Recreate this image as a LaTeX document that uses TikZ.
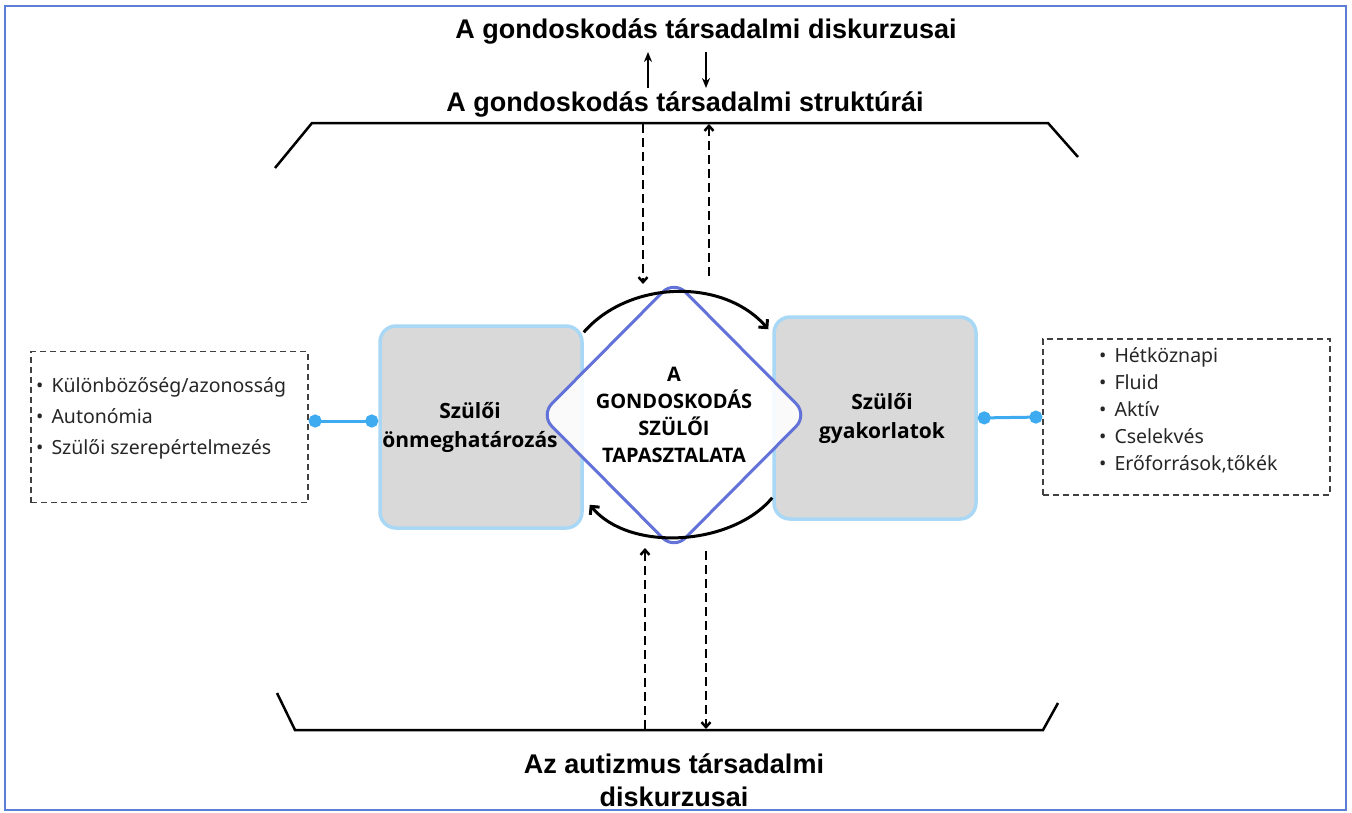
\documentclass[tikz,border=0pt]{standalone}
\usepackage{fontspec}
\setmainfont{Liberation Sans}
\newfontfamily\boxfont{Open Sans}
\newfontfamily\listfont{Noto Sans}
\usetikzlibrary{arrows.meta,shapes.geometric}

\definecolor{framecol}{HTML}{5B7FD6}
\definecolor{boxedge}{HTML}{A8D8F5}
\definecolor{boxfill}{HTML}{D9D9D9}
\definecolor{diaedge}{HTML}{6372D9}
\definecolor{linkcol}{HTML}{3EAAF0}

\begin{document}
\begin{tikzpicture}[
  x=1pt,y=-1pt,
  title/.style={font=\bfseries\fontsize{27}{33}\selectfont,inner sep=0pt,align=center},
  sbox/.style={draw=boxedge,fill=boxfill,line width=3.5pt,rounded corners=16pt,
    minimum width=202pt,minimum height=202pt},
  boxtext/.style={align=center,font=\boxfont\bfseries\fontsize{21}{29}\selectfont},
  expdia/.style={diamond,draw=diaedge,fill=white,fill opacity=0.88,line width=3pt,
    rounded corners=16pt,minimum width=268pt,minimum height=270pt,inner sep=0pt},
  diatext/.style={text opacity=1,align=center,font=\boxfont\bfseries\fontsize{20}{27}\selectfont},
  listbox/.style={draw=black!75,dashed,dash pattern=on 6pt off 4pt,line width=1.3pt,inner sep=0pt},
  listtext/.style={align=left,inner sep=0pt,text=black!85},
  link/.style={linkcol,line width=3pt,{Circle[length=13pt]}-{Circle[length=13pt]}},
  bracket/.style={line width=2.5pt,line join=miter},
  thinarrow/.style={line width=2.2pt,-{Stealth[length=10pt,width=8pt]}},
  dasharrow/.style={line width=2.5pt,dash pattern=on 9pt off 5pt,-{Straight Barb[length=5pt,width=9pt]}},
  cyclearrow/.style={line width=3pt,-{Straight Barb[length=6pt,width=12pt]}}
]
  \useasboundingbox (0,0) rectangle (1352,812);
  \draw[framecol,line width=2pt] (5,6) rectangle (1346,810);

  % titles
  \node[title] (disc) at (706,31) {A gondoskodás társadalmi diskurzusai};
  \node[title] (struct) at (685,104) {A gondoskodás társadalmi struktúrái};
  \node[title] (autism) at (674,780) {Az autizmus társadalmi\\diskurzusai};

  % brackets
  \coordinate (tb1) at (275,168);
  \coordinate (tb2) at (312,123);
  \coordinate (tb3) at (1048,123);
  \coordinate (tb4) at (1078,157);
  \coordinate (bb1) at (277,693);
  \coordinate (bb2) at (295,730);
  \coordinate (bb3) at (1043,730);
  \coordinate (bb4) at (1058,703);
  \draw[bracket] (tb1) -- (tb2) -- (tb3) -- (tb4);
  \draw[bracket] (bb1) -- (bb2) -- (bb3) -- (bb4);

  % boxes and diamond
  \node[sbox,label={[boxtext,xshift=-11pt]center:{Szülői\\önmeghatározás}}] (lbox) at (481,427) {};
  \node[sbox,label={[boxtext,xshift=7pt]center:{Szülői\\gyakorlatok}}] (rbox) at (875,418) {};
  \node[expdia,label={[diatext]center:{A\\GONDOSKODÁS\\SZÜLŐI\\TAPASZTALATA}}] (exp) at (674,415) {};

  % lists
  \node[listbox,minimum width=277pt,minimum height=151pt] (llist) at (169.5,427) {};
  \node[listtext,anchor=west,font=\listfont\fontsize{19.5}{31}\selectfont] (litems) at (36,418)
    {\textbullet\hspace{8pt}Különbözőség/azonosság\\
     \textbullet\hspace{8pt}Autonómia\\
     \textbullet\hspace{8pt}Szülői szerepértelmezés};
  \node[listbox,minimum width=287pt,minimum height=156pt] (rlist) at (1186.5,417) {};
  \node[listtext,anchor=west,font=\listfont\fontsize{19.5}{27}\selectfont] (ritems) at (1099,410)
    {\textbullet\hspace{8pt}Hétköznapi\\
     \textbullet\hspace{8pt}Fluid\\
     \textbullet\hspace{8pt}Aktív\\
     \textbullet\hspace{8pt}Cselekvés\\
     \textbullet\hspace{8pt}Erőforrások,tőkék};

  % connectors
  \draw[link] ([yshift=6pt]llist.east) -- ([yshift=6pt]lbox.west);
  \draw[link] (rbox.east) -- (rlist.west);

  % cycle
  \draw[cyclearrow] ([yshift=-8pt]lbox.north east)
    .. controls +(45,-52) and +(-45,-52) .. ([xshift=-4pt,yshift=-14pt]rbox.north west);
  \draw[cyclearrow] ([yshift=23pt]rbox.south west)
    .. controls +(-40,48) and +(40,48) .. ([xshift=6pt,yshift=25pt]lbox.south east);

  % arrows between titles
  \coordinate (up1) at (648,88);
  \coordinate (up2) at (648,52);
  \coordinate (dn1) at (706,52);
  \coordinate (dn2) at (706,88);
  \draw[thinarrow] (up1) -- (up2);
  \draw[thinarrow] (dn1) -- (dn2);

  % dashed arrows
  \coordinate (ta1) at (643,124);
  \coordinate (ta2) at (643,284);
  \coordinate (ta3) at (709,276);
  \coordinate (ta4) at (709,124);
  \coordinate (ba1) at (645,729);
  \coordinate (ba2) at (645,548);
  \coordinate (ba3) at (706,551);
  \coordinate (ba4) at (706,729);
  \draw[dasharrow] (ta1) -- (ta2);
  \draw[dasharrow] (ta3) -- (ta4);
  \draw[dasharrow] (ba1) -- (ba2);
  \draw[dasharrow] (ba3) -- (ba4);
\end{tikzpicture}
\end{document}
